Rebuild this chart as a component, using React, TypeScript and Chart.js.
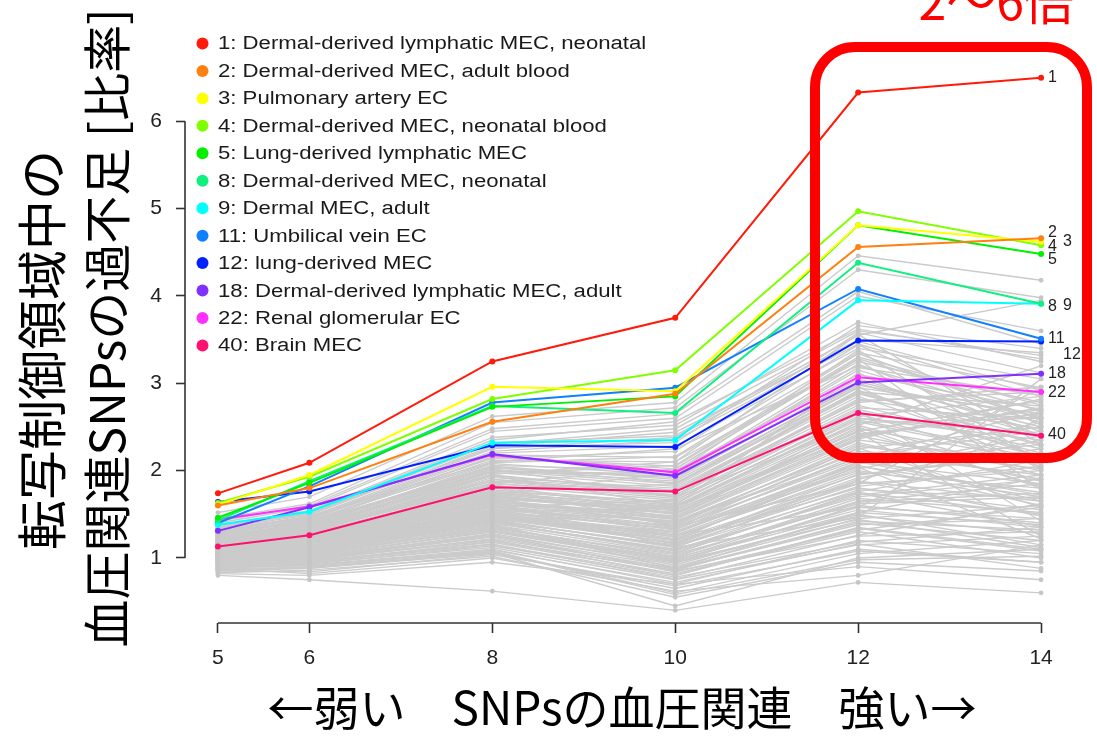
import React, { useEffect, useRef } from 'react';
import { Chart, registerables } from 'chart.js';

Chart.register(...registerables);

// ---- data ----
const xValues = [5, 6, 8, 10, 12, 14];
const xTicks = [5, 6, 8, 10, 12, 14];
const yTicks = [1, 2, 3, 4, 5, 6];

const highlightIds = ['1', '2', '3', '4', '5', '8', '9', '11', '12', '18', '22', '40'];
const highlightNames = [
  'Dermal-derived lymphatic MEC, neonatal',
  'Dermal-derived MEC, adult blood',
  'Pulmonary artery EC',
  'Dermal-derived MEC, neonatal blood',
  'Lung-derived lymphatic MEC',
  'Dermal-derived MEC, neonatal',
  'Dermal MEC, adult',
  'Umbilical vein EC',
  'lung-derived MEC',
  'Dermal-derived lymphatic MEC, adult',
  'Renal glomerular EC',
  'Brain MEC',
];
const highlightColors = [
  '#FF1A0A', '#FF8010', '#FFFF00', '#80FF00', '#00F000', '#10F080',
  '#00FFFF', '#1080FF', '#0020FF', '#8030FF', '#FF30FF', '#FF1070',
];

const s1 = [1.74, 2.09, 3.25, 3.75, 6.33, 6.50];
const s2 = [1.60, 1.80, 2.56, 2.88, 4.56, 4.66];
const s3 = [1.61, 1.95, 2.96, 2.91, 4.81, 4.62];
const s4 = [1.63, 1.93, 2.82, 3.15, 4.97, 4.58];
const s5 = [1.46, 1.86, 2.73, 2.85, 4.81, 4.48];
const s8 = [1.43, 1.88, 2.74, 2.66, 4.38, 3.91];
const s9 = [1.38, 1.53, 2.32, 2.35, 3.95, 3.91];
const s11 = [1.40, 1.82, 2.78, 2.95, 4.08, 3.51];
const s12 = [1.64, 1.76, 2.29, 2.27, 3.49, 3.48];
const s18 = [1.31, 1.58, 2.19, 1.94, 3.01, 3.11];
const s22 = [1.44, 1.59, 2.18, 1.98, 3.07, 2.90];
const s40 = [1.13, 1.26, 1.81, 1.76, 2.66, 2.40];
const highlightSeries = [s1, s2, s3, s4, s5, s8, s9, s11, s12, s18, s22, s40];

// other cell types (grey)
const greySeries = [
  [1.05, 1.12, 1.48, 1.20, 2.10, 1.85],
  [0.98, 1.02, 1.30, 0.95, 1.60, 1.40],
  [1.22, 1.35, 1.95, 1.75, 2.90, 2.30],
  [0.90, 0.95, 1.15, 0.80, 1.35, 1.10],
  [1.15, 1.30, 1.70, 1.55, 2.40, 2.70],
  [1.30, 1.48, 2.10, 2.25, 3.20, 2.60],
  [1.08, 1.20, 1.60, 1.40, 2.20, 1.95],
  [0.85, 0.88, 1.05, 0.65, 1.10, 0.95],
  [1.18, 1.28, 1.80, 1.62, 2.65, 2.05],
  [1.02, 1.10, 1.42, 1.15, 1.90, 2.35],
  [1.25, 1.40, 2.05, 1.90, 3.05, 2.45],
  [0.95, 1.00, 1.25, 0.90, 1.45, 1.60],
  [1.12, 1.25, 1.72, 1.50, 2.50, 1.80],
  [1.35, 1.52, 2.30, 2.48, 3.60, 3.32],
  [1.00, 1.08, 1.38, 1.05, 1.75, 1.50],
  [0.92, 0.98, 1.20, 0.85, 1.25, 1.30],
  [1.20, 1.32, 1.88, 1.70, 2.80, 2.90],
  [1.10, 1.22, 1.65, 1.45, 2.35, 2.10],
  [1.28, 1.42, 2.15, 2.05, 3.30, 2.75],
  [1.05, 1.15, 1.50, 1.30, 2.00, 1.70],
  [0.88, 0.92, 1.10, 0.70, 1.20, 1.05],
  [1.16, 1.26, 1.75, 1.58, 2.55, 2.60],
  [1.40, 1.58, 2.45, 2.60, 4.00, 3.60],
  [1.08, 1.18, 1.55, 1.25, 1.95, 2.20],
  [0.97, 1.05, 1.32, 1.00, 1.55, 1.35],
  [1.24, 1.36, 2.00, 1.85, 3.00, 2.40],
  [1.13, 1.24, 1.68, 1.38, 2.30, 1.90],
  [1.03, 1.12, 1.45, 1.18, 1.85, 2.00],
  [1.32, 1.46, 2.22, 2.35, 3.45, 2.85],
  [0.93, 0.97, 1.22, 0.88, 1.40, 1.20],
  [1.19, 1.30, 1.83, 1.66, 2.70, 2.25],
  [1.07, 1.16, 1.52, 1.22, 2.05, 1.75],
  [1.45, 1.62, 2.55, 2.72, 4.30, 3.98],
  [1.01, 1.09, 1.40, 1.10, 1.70, 1.90],
  [1.14, 1.27, 1.70, 1.52, 2.45, 2.80],
  [0.89, 0.94, 1.12, 0.75, 1.15, 1.25],
  [1.27, 1.38, 2.08, 1.95, 3.15, 2.55],
  [1.09, 1.19, 1.58, 1.35, 2.15, 1.65],
  [0.99, 1.06, 1.35, 1.02, 1.65, 1.85],
  [1.21, 1.33, 1.90, 1.78, 2.85, 2.15],
  [1.36, 1.50, 2.32, 2.40, 3.55, 3.95],
  [1.11, 1.21, 1.62, 1.42, 2.25, 2.50],
  [0.94, 1.00, 1.28, 0.92, 1.50, 1.15],
  [1.17, 1.29, 1.78, 1.60, 2.60, 2.35],
  [1.04, 1.13, 1.46, 1.20, 1.80, 1.55],
  [1.29, 1.44, 2.18, 2.15, 3.35, 2.95],
  [0.86, 0.90, 1.08, 0.60, 1.05, 1.20],
  [1.12, 1.23, 1.66, 1.48, 2.40, 2.00],
  [1.06, 1.14, 1.48, 1.28, 2.08, 2.30],
  [1.23, 1.34, 1.98, 1.82, 2.95, 2.65],
  [0.96, 1.03, 1.30, 0.97, 1.58, 1.45],
  [1.38, 1.54, 2.38, 2.52, 3.70, 3.25],
  [1.10, 1.20, 1.60, 1.32, 2.18, 2.45],
  [0.91, 0.96, 1.18, 0.82, 1.30, 1.00],
  [1.18, 1.31, 1.85, 1.72, 2.75, 2.20],
  [1.02, 1.11, 1.44, 1.12, 1.88, 1.65],
  [1.26, 1.39, 2.06, 2.00, 3.10, 2.70],
  [1.15, 1.25, 1.73, 1.56, 2.52, 1.95],
  [0.83, 0.86, 1.02, 0.55, 0.95, 0.85],
  [1.31, 1.45, 2.20, 2.28, 3.40, 3.05],
  [1.08, 1.17, 1.56, 1.36, 2.12, 2.55],
  [0.98, 1.04, 1.34, 1.04, 1.62, 1.70],
  [1.20, 1.31, 1.92, 1.80, 2.88, 2.38],
  [1.05, 1.13, 1.50, 1.24, 1.98, 1.80],
  [1.33, 1.47, 2.25, 2.38, 3.50, 3.35],
  [0.90, 0.93, 1.14, 0.78, 1.18, 1.35],
  [1.13, 1.26, 1.71, 1.54, 2.48, 2.12],
  [1.00, 1.07, 1.40, 1.08, 1.72, 1.95],
  [1.25, 1.37, 2.03, 1.92, 3.02, 2.50],
  [1.17, 1.28, 1.76, 1.64, 2.62, 2.85],
  [0.95, 1.01, 1.26, 0.94, 1.48, 1.28],
  [1.09, 1.18, 1.58, 1.30, 2.10, 1.72],
  [1.42, 1.60, 2.48, 2.65, 4.05, 3.45],
  [1.03, 1.10, 1.43, 1.14, 1.82, 2.05],
  [0.87, 0.89, 1.06, 0.45, 1.00, 1.10],
  [1.19, 1.32, 1.86, 1.68, 2.72, 2.60],
  [1.11, 1.22, 1.64, 1.44, 2.32, 1.88],
  [1.28, 1.41, 2.12, 2.10, 3.25, 2.78],
  [0.82, 0.80, 0.95, 0.70, 0.90, 0.75],
  [1.06, 1.15, 1.53, 1.26, 2.02, 2.40],
  [1.22, 1.33, 1.94, 1.77, 2.92, 2.28],
  [0.99, 1.05, 1.36, 1.01, 1.68, 1.52],
  [1.14, 1.24, 1.69, 1.51, 2.42, 2.65],
  [0.80, 0.75, 0.62, 0.40, 0.72, 0.60],
  [1.34, 1.49, 2.28, 2.44, 3.48, 2.92],
  [1.07, 1.16, 1.54, 1.33, 2.06, 1.60],
  [0.93, 0.99, 1.24, 0.87, 1.38, 1.45],
  [1.16, 1.27, 1.74, 1.59, 2.58, 2.18],
  [1.01, 1.08, 1.41, 1.09, 1.78, 1.68],
  [1.24, 1.35, 2.01, 1.88, 2.98, 2.62],
  [0.88, 0.82, 1.00, 0.62, 0.80, 1.15],
  [1.12, 1.21, 1.63, 1.40, 2.28, 2.02],
  [1.37, 1.53, 2.35, 2.56, 3.62, 3.28],
  [1.04, 1.12, 1.47, 1.17, 1.92, 2.25],
  [0.97, 1.02, 1.31, 0.98, 1.52, 1.38],
  [1.20, 1.30, 1.90, 1.72, 2.82, 2.48],
  [1.09, 1.20, 1.59, 1.37, 2.22, 2.08],
  [1.52, 1.70, 2.62, 2.78, 4.46, 4.18],
  [1.10, 1.23, 1.66, 1.46, 2.38, 2.72],
  [0.85, 0.84, 1.04, 0.68, 1.08, 0.95],
  [1.26, 1.36, 1.96, 2.10, 3.56, 2.30],
  [1.14, 1.23, 1.72, 1.98, 3.38, 2.10],
  [1.02, 1.12, 1.58, 1.66, 2.68, 1.42],
  [1.18, 1.27, 1.82, 1.36, 1.85, 2.95],
  [0.94, 1.02, 1.46, 1.26, 1.58, 2.60],
  [1.21, 1.29, 1.64, 1.12, 1.46, 3.05],
  [1.06, 1.19, 1.86, 2.02, 3.28, 1.78],
  [0.98, 1.09, 1.52, 1.58, 2.44, 1.25],
  [1.16, 1.30, 1.94, 1.60, 3.12, 2.12],
  [1.31, 1.42, 2.02, 1.70, 2.52, 3.20],
  [1.12, 1.18, 1.52, 1.34, 2.26, 1.58],
  [0.96, 1.06, 1.44, 1.30, 2.04, 1.22],
  [1.23, 1.31, 1.84, 1.50, 2.36, 2.82],
  [1.07, 1.13, 1.39, 0.88, 1.52, 1.92],
  [1.29, 1.40, 2.00, 1.96, 3.22, 2.40],
  [0.92, 0.96, 1.16, 0.76, 1.26, 1.62],
  [1.15, 1.28, 1.80, 1.84, 2.96, 2.02],
  [1.01, 1.07, 1.37, 0.96, 1.44, 1.12],
  [1.19, 1.34, 1.96, 2.06, 3.34, 2.58],
  [1.04, 1.14, 1.55, 1.42, 2.14, 2.68],
  [0.89, 0.91, 1.09, 0.72, 1.16, 0.88],
  [1.33, 1.45, 2.14, 2.22, 3.58, 3.12],
  [1.10, 1.19, 1.61, 1.52, 2.46, 1.82],
  [0.97, 1.01, 1.27, 0.84, 1.32, 1.58],
  [1.21, 1.36, 1.99, 1.94, 3.18, 2.86],
  [1.03, 1.09, 1.42, 1.06, 1.74, 1.36],
  [1.17, 1.26, 1.77, 1.46, 2.56, 2.14],
  [0.94, 0.99, 1.21, 0.80, 1.34, 1.08],
  [1.27, 1.43, 2.09, 2.16, 3.44, 2.52],
  [1.08, 1.15, 1.51, 1.16, 1.96, 2.16],
  [1.36, 1.51, 2.26, 2.32, 3.66, 3.40],
  [0.99, 1.04, 1.33, 0.99, 1.64, 1.74],
  [1.13, 1.22, 1.67, 1.58, 2.60, 2.42],
  [0.87, 0.88, 1.07, 0.58, 0.98, 1.02],
  [1.24, 1.38, 2.04, 1.86, 2.90, 2.74],
  [1.06, 1.12, 1.49, 1.21, 1.88, 1.48],
  [1.18, 1.33, 1.88, 1.76, 2.78, 2.96],
  [0.93, 0.94, 1.19, 0.86, 1.42, 1.32],
  [1.30, 1.41, 2.16, 2.02, 3.28, 2.68],
  [1.02, 1.10, 1.43, 1.13, 1.76, 2.12],
];

const axisTitleY1 = '転写制御領域中の';
const axisTitleY2 = '血圧関連SNPsの過不足 [比率]';
const axisTitleX = '←弱い　SNPsの血圧関連　強い→';
const annotationText = '2～6倍';

// label offsets (dx, dy) next to the last point for each highlighted series
const endLabelOffsets = [
  [7, 0], [7, -6], [22, 0], [7, 1], [7, 6], [7, 3],
  [22, 2], [7, 0], [22, 13], [7, 0], [7, 1], [7, -1],
];

const LATIN = '"Liberation Sans", Arial, Helvetica, sans-serif';
const CJK = '"Noto Sans CJK JP", "Noto Sans", sans-serif';

const overlayPlugin = {
  id: 'overlay',
  afterDraw(chart: any) {
    const ctx = chart.ctx as CanvasRenderingContext2D;
    const xs = chart.scales.x;
    const ys = chart.scales.y;
    const area = chart.chartArea;

    ctx.save();
    // R-style axis lines
    ctx.strokeStyle = '#333';
    ctx.lineWidth = 1.6;
    ctx.beginPath();
    ctx.moveTo(area.left, ys.getPixelForValue(yTicks[0]));
    ctx.lineTo(area.left, ys.getPixelForValue(yTicks[yTicks.length - 1]));
    ctx.stroke();
    ctx.beginPath();
    ctx.moveTo(xs.getPixelForValue(xTicks[0]), area.bottom);
    ctx.lineTo(xs.getPixelForValue(xTicks[xTicks.length - 1]), area.bottom);
    ctx.stroke();

    // end labels
    ctx.font = `16px ${LATIN}`;
    ctx.fillStyle = '#222';
    ctx.textAlign = 'left';
    ctx.textBaseline = 'middle';
    highlightSeries.forEach((s, i) => {
      const last = s.length - 1;
      const px = xs.getPixelForValue(xValues[last]);
      const py = ys.getPixelForValue(s[last]);
      ctx.fillText(highlightIds[i], px + endLabelOffsets[i][0], py + endLabelOffsets[i][1]);
    });

    // legend
    const lx = area.left + 17.5;
    const ly = 43.5;
    const step = 27.45;
    ctx.font = `18px ${LATIN}`;
    highlightNames.forEach((name, i) => {
      const cy = ly + i * step;
      ctx.beginPath();
      ctx.arc(lx, cy, 6, 0, Math.PI * 2);
      ctx.fillStyle = highlightColors[i];
      ctx.fill();
      ctx.save();
      ctx.translate(lx + 15.5, cy + 1);
      ctx.scale(1.23, 1);
      ctx.fillStyle = '#1a1a1a';
      ctx.textBaseline = 'middle';
      ctx.fillText(`${highlightIds[i]}: ${name}`, 0, 0);
      ctx.restore();
    });

    // red highlight box
    ctx.strokeStyle = '#FF0000';
    ctx.lineWidth = 10;
    ctx.beginPath();
    (ctx as any).roundRect(815, 47, 272, 411, 40);
    ctx.stroke();

    // red annotation (partially cut at top)
    ctx.fillStyle = '#FF0000';
    ctx.font = `50px ${CJK}`;
    ctx.textAlign = 'right';
    ctx.textBaseline = 'alphabetic';
    ctx.fillText(annotationText, 1074, 20);

    // axis titles
    ctx.fillStyle = '#000';
    ctx.textAlign = 'center';
    ctx.textBaseline = 'middle';
    ctx.font = `46px ${CJK}`;
    ctx.fillText(axisTitleX, 622, 708);

    ctx.save();
    ctx.translate(42, 350);
    ctx.rotate(-Math.PI / 2);
    ctx.font = `50px ${CJK}`;
    ctx.fillText(axisTitleY1, 0, 0);
    ctx.restore();

    ctx.save();
    ctx.translate(107, 328);
    ctx.rotate(-Math.PI / 2);
    ctx.font = `48px ${CJK}`;
    ctx.fillText(axisTitleY2, 0, 0);
    ctx.restore();

    ctx.restore();
  },
};

function toPoints(s: number[]) {
  return s.map((v, i) => ({ x: xValues[i], y: v }));
}

export default function App() {
  const ref = useRef<HTMLCanvasElement>(null);

  useEffect(() => {
    const highlighted = highlightSeries.map((s, i) => ({
      label: `${highlightIds[i]}: ${highlightNames[i]}`,
      data: toPoints(s),
      borderColor: highlightColors[i],
      backgroundColor: highlightColors[i],
      borderWidth: 2,
      pointRadius: 3,
      pointBorderWidth: 0,
      tension: 0,
    }));
    const greys = greySeries.map((s, i) => ({
      label: `other ${i + 1}`,
      data: toPoints(s),
      borderColor: '#CBCBCB',
      backgroundColor: '#C6C6C6',
      borderWidth: 1.4,
      pointRadius: 2.4,
      pointBorderWidth: 0,
      tension: 0,
    }));

    const chart = new Chart(ref.current as HTMLCanvasElement, {
      type: 'line',
      data: { datasets: [...highlighted, ...greys] as any },
      options: {
        animation: false,
        responsive: true,
        maintainAspectRatio: false,
        layout: { padding: { left: 125, right: 23, top: 34, bottom: 66 } },
        plugins: { legend: { display: false }, tooltip: { enabled: false } },
        scales: {
          x: {
            type: 'linear',
            min: 4.64,
            max: 14.36,
            afterBuildTicks: (s: any) => {
              s.ticks = xTicks.map((v) => ({ value: v }));
            },
            afterFit: (s: any) => {
              s.height = 50;
              s.paddingLeft = 0;
              s.paddingRight = 0;
            },
            border: { display: false },
            grid: {
              display: true,
              drawOnChartArea: false,
              drawTicks: true,
              tickLength: 10,
              tickColor: '#333',
              tickWidth: 1.6,
            },
            ticks: {
              autoSkip: false,
              maxRotation: 0,
              padding: 13,
              color: '#222',
              font: { family: LATIN, size: 21 },
              callback: (v: any) => String(v),
            },
          },
          y: {
            type: 'linear',
            min: 0.255,
            max: 7.0,
            afterBuildTicks: (s: any) => {
              s.ticks = yTicks.map((v) => ({ value: v }));
            },
            afterFit: (s: any) => {
              s.width = 60;
              s.paddingTop = 0;
              s.paddingBottom = 0;
            },
            border: { display: false },
            grid: {
              display: true,
              drawOnChartArea: false,
              drawTicks: true,
              tickLength: 9,
              tickColor: '#333',
              tickWidth: 1.6,
            },
            ticks: {
              padding: 14,
              color: '#222',
              font: { family: LATIN, size: 21 },
              callback: (v: any) => String(v),
            },
          },
        },
      },
      plugins: [overlayPlugin],
    } as any);
    return () => chart.destroy();
  }, []);

  return (
    <div style={{ position: 'absolute', left: 0, top: 0, width: 1097, height: 739, background: '#fff' }}>
      <canvas ref={ref} />
    </div>
  );
}
